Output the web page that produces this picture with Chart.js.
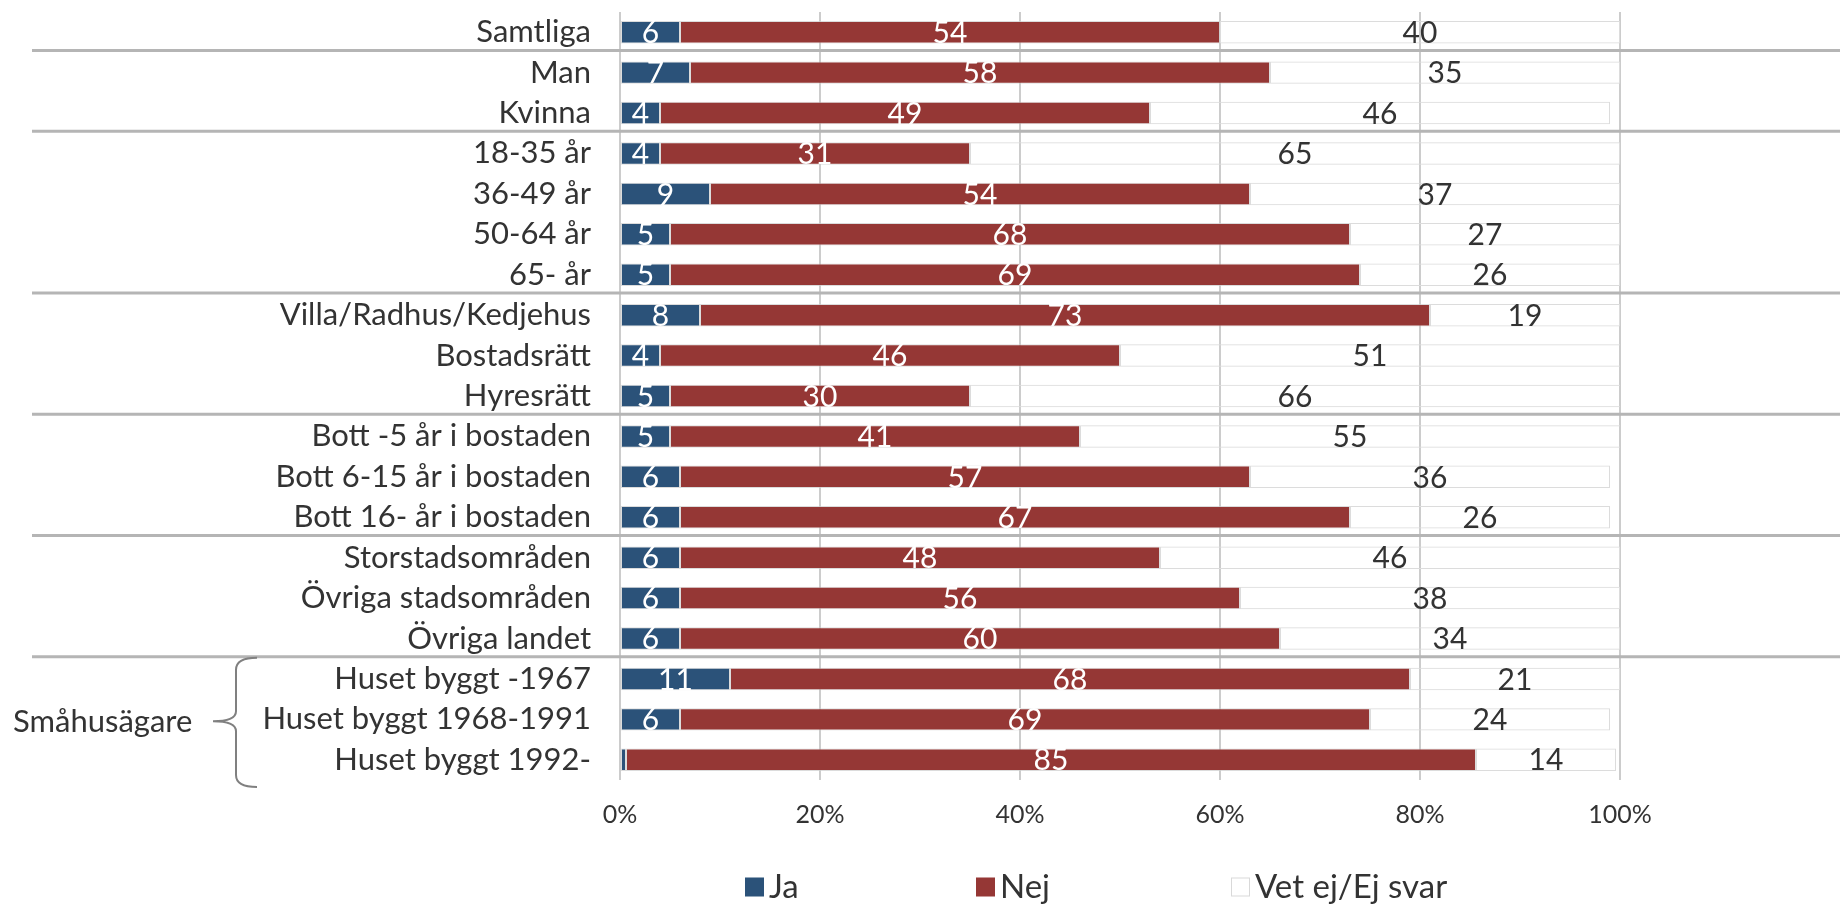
<!DOCTYPE html>
<html lang="sv">
<head>
    <meta charset="UTF-8">
    <title>Ja / Nej / Vet ej</title>
    <script src="https://cdn.jsdelivr.net/npm/chart.js"></script>
    <style>
        body { margin: 0; background: #fff; }
        #chart { display: block; }
    </style>
</head>
<body>
    <canvas id="chart" width="1840" height="904"></canvas>

    <script>
        const categories = [
            'Samtliga', 'Man', 'Kvinna',
            '18-35 år', '36-49 år', '50-64 år', '65- år',
            'Villa/Radhus/Kedjehus', 'Bostadsrätt', 'Hyresrätt',
            'Bott -5 år i bostaden', 'Bott 6-15 år i bostaden', 'Bott 16- år i bostaden',
            'Storstadsområden', 'Övriga stadsområden', 'Övriga landet',
            'Huset byggt -1967', 'Huset byggt 1968-1991', 'Huset byggt 1992-'
        ];
        const jaValues    = [6, 7, 4, 4, 9, 5, 5, 8, 4, 5, 5, 6, 6, 6, 6, 6, 11, 6, 0.6];
        const nejValues   = [54, 58, 49, 31, 54, 68, 69, 73, 46, 30, 41, 57, 67, 48, 56, 60, 68, 69, 85];
        const vetEjValues = [40, 35, 46, 65, 37, 27, 26, 19, 51, 66, 55, 36, 26, 46, 38, 34, 21, 24, 14];
        const seriesNames = ['Ja', 'Nej', 'Vet ej/Ej svar'];
        // last row of each group, a separator line is drawn below it
        const groupEnds = [0, 2, 6, 9, 12, 15];
        const bracketLabel = 'Småhusägare';

        const FONT = 'Lato, "Open Sans", sans-serif';
        const TEXT = '#333333';
        const colors = ['#2b5279', '#953735', 'rgba(255,255,255,0)'];

        // white numbers inside the coloured bars, dark ones in the empty part
        const barLabels = {
            id: 'barLabels',
            afterDatasetsDraw(chart) {
                const ctx = chart.ctx;
                const area = chart.chartArea;
                ctx.save();
                ctx.font = '30px ' + FONT;
                ctx.textAlign = 'center';
                ctx.textBaseline = 'middle';
                chart.data.datasets.forEach((ds, di) => {
                    const meta = chart.getDatasetMeta(di);
                    meta.data.forEach((bar, i) => {
                        const v = ds.data[i];
                        if (v < 2) return;
                        const right = Math.min(bar.x, area.right);
                        const cx = (bar.base + right) / 2;
                        ctx.fillStyle = di < 2 ? '#ffffff' : TEXT;
                        ctx.fillText(String(v), cx, bar.y + 1);
                    });
                });
                ctx.restore();
            }
        };

        // grey separators, the brace and the legend
        const decorations = {
            id: 'decorations',
            afterDraw(chart) {
                const ctx = chart.ctx;
                const y = chart.scales.y;
                const area = chart.chartArea;
                ctx.save();

                ctx.strokeStyle = '#b5b5b5';
                ctx.lineWidth = 3;
                groupEnds.forEach(i => {
                    const yy = (y.getPixelForValue(i) + y.getPixelForValue(i + 1)) / 2 - 2;
                    ctx.beginPath();
                    ctx.moveTo(32, yy);
                    ctx.lineTo(chart.width, yy);
                    ctx.stroke();
                });

                // brace around the last group
                const top = (y.getPixelForValue(15) + y.getPixelForValue(16)) / 2 - 1;
                const bottom = area.bottom + 7;
                const mid = y.getPixelForValue(17) + 2;
                const xv = 236, xr = 257, xp = 213;
                ctx.strokeStyle = '#808080';
                ctx.lineWidth = 2;
                ctx.beginPath();
                ctx.moveTo(xr, top);
                ctx.quadraticCurveTo(xv, top, xv, top + 12);
                ctx.lineTo(xv, mid - 10);
                ctx.quadraticCurveTo(xv, mid, xp, mid);
                ctx.quadraticCurveTo(xv, mid, xv, mid + 10);
                ctx.lineTo(xv, bottom - 12);
                ctx.quadraticCurveTo(xv, bottom, xr, bottom);
                ctx.stroke();

                ctx.fillStyle = TEXT;
                ctx.font = '31px ' + FONT;
                ctx.textAlign = 'left';
                ctx.textBaseline = 'middle';
                ctx.fillText(bracketLabel, 13, mid + 1);

                // legend
                const legendX = [745, 976, 1231];
                const ly = 887;
                ctx.font = '33px ' + FONT;
                seriesNames.forEach((name, i) => {
                    const x = legendX[i];
                    ctx.fillStyle = i < 2 ? colors[i] : '#ffffff';
                    ctx.fillRect(x, ly - 9.5, 19, 19);
                    if (i === 2) {
                        ctx.strokeStyle = '#d9d9d9';
                        ctx.lineWidth = 1;
                        ctx.strokeRect(x + 0.5, ly - 9, 18, 18);
                    }
                    ctx.fillStyle = TEXT;
                    ctx.fillText(name, x + 24, ly);
                });
                ctx.restore();
            }
        };

        new Chart(document.getElementById('chart'), {
            type: 'bar',
            data: {
                labels: categories,
                datasets: [jaValues, nejValues, vetEjValues].map((values, i) => ({
                    label: seriesNames[i],
                    data: values,
                    backgroundColor: colors[i],
                    borderColor: i < 2 ? 'rgba(205,205,205,0.7)' : '#dcdcdc',
                    borderWidth: 1,
                    borderSkipped: false,
                    barPercentage: 0.556,
                    categoryPercentage: 1
                }))
            },
            options: {
                indexAxis: 'y',
                responsive: false,
                animation: false,
                layout: { padding: { top: 12, right: 220, left: 0, bottom: 0 } },
                scales: {
                    x: {
                        stacked: true,
                        min: 0,
                        max: 100,
                        afterFit: s => { s.height = 124; s.paddingLeft = 0; s.paddingRight = 0; },
                        grid: { color: '#cccccc', lineWidth: 2, drawTicks: false },
                        border: { display: false },
                        ticks: {
                            stepSize: 20,
                            padding: 20,
                            color: TEXT,
                            font: { family: FONT, size: 25 },
                            callback: v => v + '%'
                        }
                    },
                    y: {
                        stacked: true,
                        afterFit: s => { s.width = 620; s.paddingTop = 0; s.paddingBottom = 0; },
                        grid: { display: false, drawTicks: false },
                        border: { display: false },
                        ticks: {
                            autoSkip: false,
                            padding: 29,
                            color: TEXT,
                            font: { family: FONT, size: 31 }
                        }
                    }
                },
                plugins: {
                    legend: { display: false },
                    tooltip: { enabled: false }
                }
            },
            plugins: [barLabels, decorations]
        });
    </script>
</body>
</html>
